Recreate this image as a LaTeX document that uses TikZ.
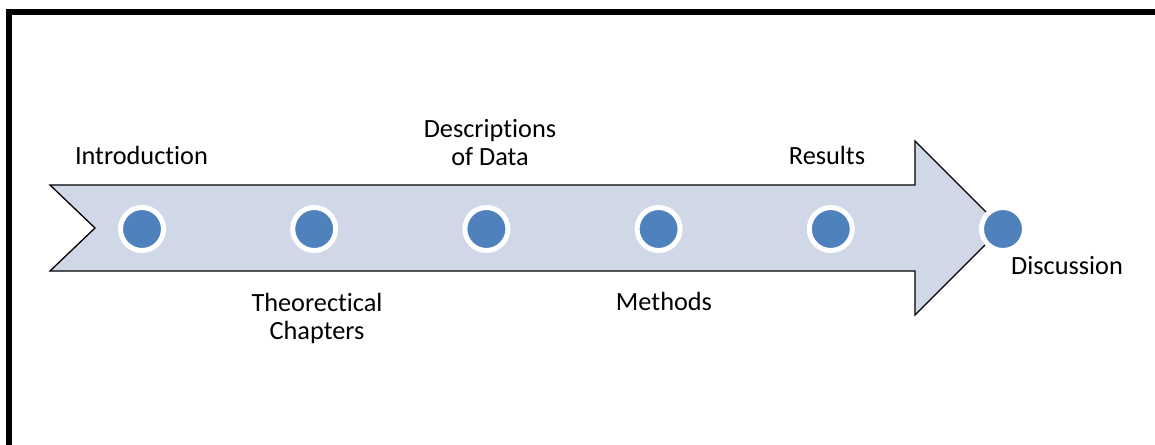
\documentclass[tikz,border=0pt]{standalone}
\usepackage{fontspec}
\setmainfont{Carlito}[Ligatures={NoCommon}]
\begin{document}
\begin{tikzpicture}[x=1pt,y=-1pt,
  lbl/.style={font=\fontsize{26.3}{28}\selectfont, inner sep=0pt, align=center, text=black},
  dot/.style={circle, fill=dotblue, draw=white, line width=5pt, minimum size=43pt, inner sep=0pt}]
\definecolor{dotblue}{HTML}{4F81BD}
\definecolor{arrowfill}{HTML}{D0D8E8}
\useasboundingbox (0,0) rectangle (1155,444);
% frame
\draw[line width=6pt] (9,500) -- (9,12) -- (1200,12);
% arrow
\draw[fill=arrowfill, line width=1.3pt, line join=miter]
  (50,185) -- (915,185) -- (915,141) -- (1002,228) -- (915,315) -- (915,271) -- (50,271) -- (95,228) -- cycle;
% dots
\foreach \i/\n in {0/d1,1/d2,2/d3,3/d4,4/d5,5/d6}
  \node[dot] (\n) at (142+172.2*\i, 229) {};
% labels
\node[lbl, anchor=base] (intro) at (141.5,164) {Introduction};
\node[lbl, anchor=base] (desc) at (490,165) {Descriptions\\of Data};
\node[lbl, anchor=base] (theo) at (317,339) {Theorectical\\Chapters};
\node[lbl, anchor=base] (meth) at (664,310) {Methods};
\node[lbl, anchor=base] (res) at (827,164) {Results};
\node[lbl, anchor=base] (disc) at (1067,274) {Discussion};
\end{tikzpicture}
\end{document}
